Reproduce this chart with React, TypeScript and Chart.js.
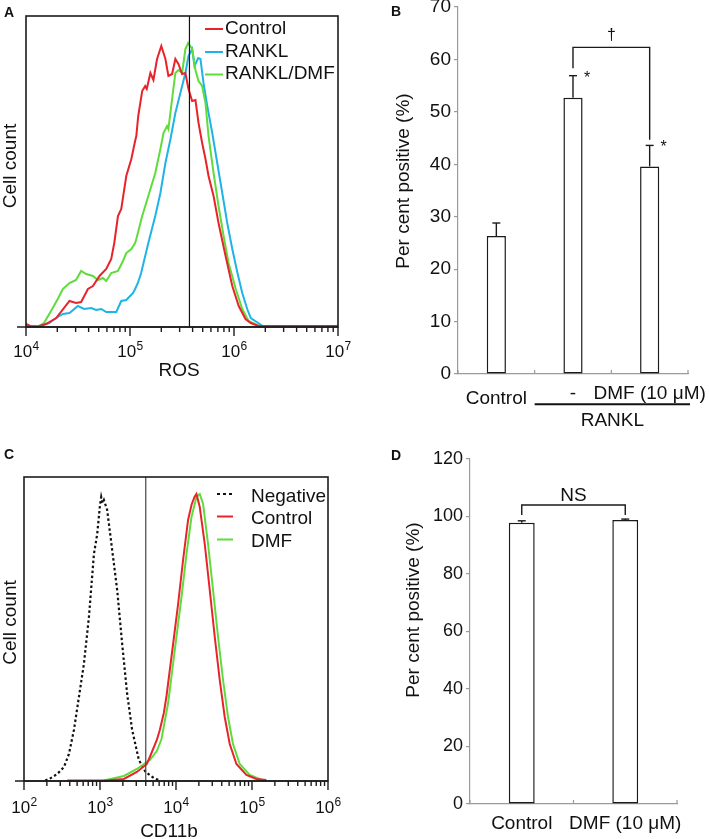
import React, { useEffect, useRef } from 'react';
import { Chart, registerables } from 'chart.js';

Chart.register(...registerables);

type Pt = [number, number];

// ---------------- Panel A : ROS histograms [ROS intensity, cell count] ----------------
const rosControl: Pt[] = [
  [1.0e4, 3], [1.1e4, 1], [1.3e4, 0.5], [1.56e4, 3], [1.95e4, 9], [2.62e4, 26], [3.03e4, 24], [3.39e4, 25],
  [3.94e4, 38], [4.4e4, 41], [5.09e4, 51], [5.91e4, 58], [6.6e4, 68], [7.06e4, 84], [7.66e4, 111], [8.24e4, 118],
  [9.21e4, 151], [1.03e5, 168], [1.12e5, 186], [1.15e5, 191], [1.2e5, 211], [1.31e5, 236], [1.4e5, 241], [1.45e5, 238],
  [1.57e5, 254], [1.68e5, 247], [1.82e5, 268], [2.0e5, 281], [2.19e5, 268], [2.34e5, 251], [2.54e5, 253], [2.73e5, 268],
  [2.92e5, 263], [3.17e5, 253], [3.41e5, 254], [3.65e5, 238], [3.96e5, 226], [4.26e5, 227], [4.56e5, 204], [4.94e5, 184],
  [5.32e5, 168], [5.69e5, 151], [6.36e5, 131], [7.1e5, 104], [8.3e5, 71], [9.63e5, 41], [1.11e6, 21], [1.29e6, 8],
  [1.45e6, 4], [1.73e6, 1], [1.0e7, 1],
];
const rosRankl: Pt[] = [
  [1.0e4, 1], [1.33e4, 1], [1.67e4, 4], [1.95e4, 9], [2.26e4, 13], [2.62e4, 14], [3.15e4, 21], [3.62e4, 18],
  [4.24e4, 19], [4.73e4, 17], [5.29e4, 18], [5.91e4, 15], [7.38e4, 15], [8.24e4, 26], [9.21e4, 27], [1.07e5, 34],
  [1.12e5, 38], [1.19e5, 44], [1.28e5, 54], [1.5e5, 84], [1.75e5, 111], [1.96e5, 134], [2.19e5, 164], [2.45e5, 188],
  [2.73e5, 214], [3.05e5, 234], [3.41e5, 254], [3.65e5, 271], [3.96e5, 278], [4.17e5, 261], [4.53e5, 269], [4.76e5, 268],
  [5.09e5, 244], [5.53e5, 221], [6.18e5, 194], [6.9e5, 164], [7.71e5, 134], [8.61e5, 104], [9.63e5, 78], [1.08e6, 54],
  [1.2e6, 34], [1.34e6, 18], [1.45e6, 9], [1.89e6, 1],
];
const rosRanklDmf: Pt[] = [
  [1.0e4, 1], [1.33e4, 1], [1.49e4, 4], [1.74e4, 16], [2.02e4, 28], [2.26e4, 38], [2.62e4, 44], [3.03e4, 47],
  [3.39e4, 56], [3.79e4, 53], [4.4e4, 51], [4.91e4, 47], [5.49e4, 49], [5.91e4, 46], [6.6e4, 54], [7.66e4, 56],
  [8.56e4, 66], [9.21e4, 74], [1.03e5, 78], [1.12e5, 84], [1.15e5, 88], [1.31e5, 111], [1.5e5, 131], [1.75e5, 154],
  [1.96e5, 178], [2.1e5, 194], [2.27e5, 201], [2.34e5, 198], [2.54e5, 228], [2.73e5, 254], [2.92e5, 257], [3.17e5, 254],
  [3.41e5, 278], [3.62e5, 284], [3.96e5, 278], [4.26e5, 257], [4.56e5, 246], [4.94e5, 241], [5.32e5, 224], [5.69e5, 191],
  [6.36e5, 154], [7.1e5, 121], [7.94e5, 91], [8.87e5, 64], [1.04e6, 38], [1.2e6, 18], [1.38e6, 6], [1.73e6, 1],
];
const rosGate = 3.73e5;
const rosDecades = [4, 5, 6, 7];
const rosLegend = ['Control', 'RANKL', 'RANKL/DMF'];

// ---------------- Panel B : per cent positive ----------------
const bCategories = ['Control', '-', 'DMF (10 μM)'];
const bValues = [26.3, 52.7, 39.6];
const bErrors = [2.5, 4.2, 4.0];
const bTicks = [0, 10, 20, 30, 40, 50, 60, 70];
const bBracket = [62.3, 58.3, 44.7]; // top, left end, right end
const bGroupLabel = 'RANKL';

// ---------------- Panel C : CD11b histograms [CD11b intensity, cell count] ----------------
const cdNegative: Pt[] = [
  [190, 0.5], [215, 2], [274, 7], [336, 14], [390, 27], [454, 51], [528, 84], [614, 117], [715, 164], [832, 227],
  [919, 247], [1000, 276], [1037, 284], [1080, 278], [1125, 281], [1243, 271], [1446, 231], [1683, 191], [1958, 137],
  [2277, 87], [2649, 51], [3246, 21], [3974, 9], [5109, 3], [6100, 0.5],
];
const cdControl: Pt[] = [
  [370, 0.5], [1200, 0.5], [2061, 2], [3055, 9], [4133, 17], [4527, 24], [5594, 41], [6124, 51], [6915, 68],
  [7502, 85], [9162, 137], [10660, 177], [12390, 221], [14420, 261], [15990, 276], [17500, 284], [18590, 287],
  [20540, 274], [23890, 237], [27800, 191], [32360, 144], [37630, 101], [43750, 64], [50930, 37], [62370, 17],
  [84360, 6], [114300, 2], [154500, 1],
];
const cdDmf: Pt[] = [
  [1125, 0.5], [2061, 5], [3055, 12], [4133, 19], [4527, 21], [5594, 30], [6446, 42], [7876, 78], [9641, 131],
  [11810, 184], [13740, 227], [15990, 264], [18590, 284], [20540, 287], [22710, 277], [26410, 237], [30730, 191],
  [35760, 144], [41590, 101], [48370, 64], [56260, 37], [68930, 17], [93300, 6], [126200, 2], [134100, 1],
];
const cdGate = 4000;
const cdDecades = [2, 3, 4, 5, 6];
const cdLegend = ['Negative', 'Control', 'DMF'];

// ---------------- Panel D : per cent positive ----------------
const dCategories = ['Control', 'DMF (10 μM)'];
const dValues = [97.8, 98.8];
const dErrors = [0.7, 0.3];
const dTicks = [0, 20, 40, 60, 80, 100, 120];
const dBracket = [104, 100.5, 100.5];

// ---------------- styling ----------------
const FONT = '"Liberation Sans", Arial, Helvetica, sans-serif';
const RED = '#e8232a';
const BLUE = '#1fb3e8';
const GREEN = '#5fdc3c';
const INK = '#111';
const AXIS_GREY = '#9a9a9a';

const f = (size: number, bold = false) => `${bold ? 'bold ' : ''}${size}px ${FONT}`;

function seg(ctx: CanvasRenderingContext2D, x0: number, y0: number, x1: number, y1: number) {
  ctx.beginPath();
  ctx.moveTo(x0, y0);
  ctx.lineTo(x1, y1);
  ctx.stroke();
}
function textAt(ctx: CanvasRenderingContext2D, s: string, x: number, cy: number, size: number, align: CanvasTextAlign = 'center', bold = false) {
  ctx.font = f(size, bold);
  ctx.textAlign = align;
  ctx.textBaseline = 'alphabetic';
  ctx.fillStyle = INK;
  ctx.fillText(s, x, cy + size * 0.36);
}
function textV(ctx: CanvasRenderingContext2D, s: string, cx: number, cy: number, size: number) {
  ctx.save();
  ctx.translate(cx, cy);
  ctx.rotate(-Math.PI / 2);
  ctx.font = f(size);
  ctx.textAlign = 'center';
  ctx.textBaseline = 'alphabetic';
  ctx.fillStyle = INK;
  ctx.fillText(s, 0, size * 0.36);
  ctx.restore();
}
function powLabel(ctx: CanvasRenderingContext2D, px: number, cy: number, exp: number) {
  ctx.font = f(17);
  const w1 = ctx.measureText('10').width;
  ctx.font = f(12);
  const w2 = ctx.measureText(String(exp)).width;
  const x0 = px - (w1 + w2) / 2;
  ctx.textAlign = 'left';
  ctx.textBaseline = 'alphabetic';
  ctx.fillStyle = INK;
  ctx.font = f(17);
  ctx.fillText('10', x0, cy + 6);
  ctx.font = f(12);
  ctx.fillText(String(exp), x0 + w1 + 0.5, cy - 1);
}

interface Series { data: Pt[]; color: string; dash?: number[]; width?: number }
interface HistOpts {
  series: Series[];
  xmin: number; xmax: number; ymax: number;
  padding: { left: number; right: number; top: number; bottom: number };
  axisH: number;
  decades: number[];
  gate: number; gateColor: string;
  legend: { label: string; color: string; dash?: number[] }[];
  legendLine: [number, number]; legendTextX: number; legendY: number[]; legendLineDy: number;
  labelY: number; title: string; titleX: number; titleY: number;
  yTitle: string; yTitleX: number; yTitleY: number;
  letter: string; letterX: number; letterY: number;
}

function histConfig(o: HistOpts): any {
  return {
    type: 'line',
    data: {
      datasets: o.series.map((s) => ({
        data: s.data.map(([x, y]) => ({ x, y })),
        borderColor: s.color,
        borderWidth: s.width ?? 2,
        borderDash: s.dash ?? [],
        pointRadius: 0,
        tension: 0,
        fill: false,
        clip: false,
      })),
    },
    options: {
      animation: false,
      responsive: false,
      devicePixelRatio: 1,
      layout: { padding: o.padding },
      plugins: { legend: { display: false }, tooltip: { enabled: false } },
      scales: {
        x: {
          type: 'logarithmic', min: o.xmin, max: o.xmax, display: true,
          grid: { display: false }, ticks: { display: false }, border: { display: false },
          afterFit: (s: any) => { s.height = o.axisH; },
        },
        y: { type: 'linear', min: 0, max: o.ymax, display: false },
      },
    },
    plugins: [{
      id: 'histOverlay',
      afterDraw(chart: any) {
        const { ctx, chartArea: a } = chart;
        const x = chart.scales.x;
        ctx.save();
        // gate line
        ctx.strokeStyle = o.gateColor;
        ctx.lineWidth = 1.2;
        const gx = x.getPixelForValue(o.gate);
        seg(ctx, gx, a.top, gx, a.bottom);
        // frame
        ctx.strokeStyle = '#1c1c1c';
        ctx.lineWidth = 1.6;
        ctx.strokeRect(a.left, a.top, a.right - a.left, a.bottom - a.top);
        seg(ctx, a.left - 9, a.bottom, a.right, a.bottom);
        // ticks & labels
        ctx.lineWidth = 1.4;
        o.decades.forEach((e, i) => {
          const px = x.getPixelForValue(Math.pow(10, e));
          ctx.strokeStyle = '#1c1c1c';
          seg(ctx, px, a.bottom, px, a.bottom + 9);
          if (i < o.decades.length - 1) {
            for (let k = 2; k <= 9; k++) {
              const p = x.getPixelForValue(k * Math.pow(10, e));
              seg(ctx, p, a.bottom, p, a.bottom + 5);
            }
          }
          powLabel(ctx, px, o.labelY, e);
        });
        // titles
        textAt(ctx, o.title, o.titleX, o.titleY, 19);
        textV(ctx, o.yTitle, o.yTitleX, o.yTitleY, 19);
        textAt(ctx, o.letter, o.letterX, o.letterY, 14, 'center', true);
        // legend
        o.legend.forEach((it, i) => {
          const y = o.legendY[i];
          ctx.strokeStyle = it.color;
          ctx.lineWidth = 2;
          ctx.setLineDash(it.dash ?? []);
          seg(ctx, o.legendLine[0], y + o.legendLineDy, o.legendLine[1], y + o.legendLineDy);
          ctx.setLineDash([]);
          textAt(ctx, it.label, o.legendTextX, y, 19, 'left');
        });
        ctx.restore();
      },
    }],
  };
}

interface BarOpts {
  categories: string[]; values: number[]; errors: number[]; ticks: number[]; max: number;
  yWidth: number; axisH: number; padding: { left: number; right: number; top: number; bottom: number };
  tickFont: number;
  bracket: { from: number; to: number; top: number; leftEnd: number; rightEnd: number; label: string; labelSize: number; labelGap: number };
  stars: number[];
  labelY: number[];
  group?: { text: string; lineY: number; textY: number };
  yTitleX: number; yTitleY: number;
  letter: string; letterX: number; letterY: number;
}

function barConfig(o: BarOpts): any {
  return {
    type: 'bar',
    data: {
      labels: o.categories,
      datasets: [{
        data: o.values,
        backgroundColor: '#ffffff',
        borderColor: '#1a1a1a',
        borderWidth: 1.5,
        borderSkipped: false,
        barPercentage: 0.25,
        categoryPercentage: 1,
      }],
    },
    options: {
      animation: false,
      responsive: false,
      devicePixelRatio: 1,
      layout: { padding: o.padding },
      plugins: { legend: { display: false }, tooltip: { enabled: false } },
      scales: {
        x: {
          type: 'category', offset: true,
          grid: { display: false }, ticks: { display: false },
          border: { display: true, color: AXIS_GREY, width: 1.2 },
          afterFit: (s: any) => { s.height = o.axisH; },
        },
        y: {
          type: 'linear', min: 0, max: o.max,
          afterBuildTicks: (s: any) => { s.ticks = o.ticks.map((v) => ({ value: v })); },
          ticks: { font: { family: FONT, size: o.tickFont }, color: INK, padding: 3 },
          grid: { drawOnChartArea: false, drawTicks: true, tickLength: 4, color: AXIS_GREY, lineWidth: 1.2 },
          border: { display: true, color: AXIS_GREY, width: 1.2 },
          afterFit: (s: any) => { s.width = o.yWidth; },
        },
      },
    },
    plugins: [{
      id: 'barOverlay',
      afterDraw(chart: any) {
        const { ctx, chartArea: a } = chart;
        const x = chart.scales.x;
        const y = chart.scales.y;
        const n = o.categories.length;
        ctx.save();
        // small upward ticks at category boundaries
        ctx.strokeStyle = AXIS_GREY;
        ctx.lineWidth = 1.2;
        for (let i = 0; i <= n; i++) {
          const p = x.getPixelForValue(i - 0.5);
          seg(ctx, p, a.bottom, p, a.bottom - 4);
        }
        // error bars
        ctx.strokeStyle = '#1a1a1a';
        ctx.lineWidth = 1.4;
        o.values.forEach((v, i) => {
          const cx = x.getPixelForValue(i);
          const y0 = y.getPixelForValue(v);
          const y1 = y.getPixelForValue(v + o.errors[i]);
          seg(ctx, cx, y0, cx, y1);
          seg(ctx, cx - 4, y1, cx + 4, y1);
        });
        // significance bracket
        const b = o.bracket;
        const xl = x.getPixelForValue(b.from);
        const xr = x.getPixelForValue(b.to);
        const yt = y.getPixelForValue(b.top);
        ctx.beginPath();
        ctx.moveTo(xl, y.getPixelForValue(b.leftEnd));
        ctx.lineTo(xl, yt);
        ctx.lineTo(xr, yt);
        ctx.lineTo(xr, y.getPixelForValue(b.rightEnd));
        ctx.stroke();
        ctx.font = f(b.labelSize);
        ctx.textAlign = 'center';
        ctx.textBaseline = 'alphabetic';
        ctx.fillStyle = INK;
        ctx.fillText(b.label, (xl + xr) / 2, yt - b.labelGap);
        // asterisks
        o.stars.forEach((i) => {
          const cx = x.getPixelForValue(i) + 14;
          const yy = y.getPixelForValue(o.values[i] + o.errors[i]);
          ctx.font = f(16);
          ctx.textAlign = 'center';
          ctx.fillText('*', cx, yy + 7);
        });
        // category labels
        o.categories.forEach((c, i) => {
          textAt(ctx, c, x.getPixelForValue(i), o.labelY[i], 19);
        });
        if (o.group) {
          const g0 = x.getPixelForValue(0.5);
          const g1 = a.right + 2;
          ctx.strokeStyle = '#111';
          ctx.lineWidth = 2;
          seg(ctx, g0, o.group.lineY, g1, o.group.lineY);
          textAt(ctx, o.group.text, (g0 + g1) / 2, o.group.textY, 19);
        }
        textV(ctx, 'Per cent positive (%)', o.yTitleX, o.yTitleY, 19);
        textAt(ctx, o.letter, o.letterX, o.letterY, 14, 'center', true);
        ctx.restore();
      },
    }],
  };
}

const cfgA = () => histConfig({
  series: [
    { data: rosControl, color: RED },
    { data: rosRanklDmf, color: GREEN },
    { data: rosRankl, color: BLUE },
  ],
  xmin: 1e4, xmax: 1e7, ymax: 311,
  padding: { left: 26, right: 16, top: 16, bottom: 0 },
  axisH: 93,
  decades: rosDecades,
  gate: rosGate, gateColor: '#111',
  legend: [
    { label: rosLegend[0], color: RED },
    { label: rosLegend[1], color: BLUE },
    { label: rosLegend[2], color: GREEN },
  ],
  legendLine: [205, 223], legendTextX: 225, legendY: [27, 50, 72.5], legendLineDy: 2,
  labelY: 351, title: 'ROS', titleX: 179, titleY: 369,
  yTitle: 'Cell count', yTitleX: 9, yTitleY: 166,
  letter: 'A', letterX: 9, letterY: 11.5,
});

const cfgC = () => histConfig({
  series: [
    { data: cdControl, color: RED },
    { data: cdDmf, color: GREEN },
    { data: cdNegative, color: '#111', dash: [2.5, 2.5], width: 2.2 },
  ],
  xmin: 1e2, xmax: 1e6, ymax: 304,
  padding: { left: 24, right: 26, top: 57, bottom: 0 },
  axisH: 58,
  decades: cdDecades,
  gate: cdGate, gateColor: '#444',
  legend: [
    { label: cdLegend[0], color: '#111', dash: [3, 3] },
    { label: cdLegend[1], color: RED },
    { label: cdLegend[2], color: GREEN },
  ],
  legendLine: [217, 233], legendTextX: 251, legendY: [75, 97.5, 120.5], legendLineDy: -1,
  labelY: 386.5, title: 'CD11b', titleX: 169, titleY: 410.5,
  yTitle: 'Cell count', yTitleX: 9, yTitleY: 202.5,
  letter: 'C', letterX: 9, letterY: 34,
});

const cfgB = () => barConfig({
  categories: bCategories, values: bValues, errors: bErrors, ticks: bTicks, max: 70,
  yWidth: 104, axisH: 61, padding: { left: 0, right: 21, top: 17, bottom: 0 },
  tickFont: 19,
  bracket: { from: 1, to: 2, top: bBracket[0], leftEnd: bBracket[1], rightEnd: bBracket[2], label: '†', labelSize: 16, labelGap: 7 },
  stars: [1, 2],
  labelY: [407, 402.5, 402.5],
  group: { text: bGroupLabel, lineY: 414.3, textY: 429.5 },
  yTitleX: 48, yTitleY: 191,
  letter: 'B', letterX: 42, letterY: 20.5,
});

const cfgD = () => barConfig({
  categories: dCategories, values: dValues, errors: dErrors, ticks: dTicks, max: 120,
  yWidth: 116, axisH: 35, padding: { left: 0, right: 32, top: 24, bottom: 0 },
  tickFont: 18,
  bracket: { from: 0, to: 1, top: dBracket[0], leftEnd: dBracket[1], rightEnd: dBracket[2], label: 'NS', labelSize: 19, labelGap: 4 },
  stars: [],
  labelY: [387, 387],
  yTitleX: 58, yTitleY: 175,
  letter: 'D', letterX: 42, letterY: 20,
});

export default function App() {
  const aRef = useRef<HTMLCanvasElement>(null);
  const bRef = useRef<HTMLCanvasElement>(null);
  const cRef = useRef<HTMLCanvasElement>(null);
  const dRef = useRef<HTMLCanvasElement>(null);

  useEffect(() => {
    const charts = [
      new Chart(aRef.current!, cfgA()),
      new Chart(bRef.current!, cfgB()),
      new Chart(cRef.current!, cfgC()),
      new Chart(dRef.current!, cfgD()),
    ];
    return () => charts.forEach((c) => c.destroy());
  }, []);

  const abs = (left: number, top: number, w: number, h: number): React.CSSProperties => ({
    position: 'absolute', left, top, width: w, height: h,
  });

  return (
    <div style={{ position: 'fixed', left: 0, top: 0, width: 709, height: 839, background: '#fff', overflow: 'hidden' }}>
      <canvas ref={aRef} width={354} height={420} style={abs(0, 0, 354, 420)} />
      <canvas ref={cRef} width={354} height={419} style={abs(0, 420, 354, 419)} />
      <canvas ref={bRef} width={355} height={445} style={abs(354, -10, 355, 445)} />
      <canvas ref={dRef} width={355} height={404} style={abs(354, 435, 355, 404)} />
    </div>
  );
}
